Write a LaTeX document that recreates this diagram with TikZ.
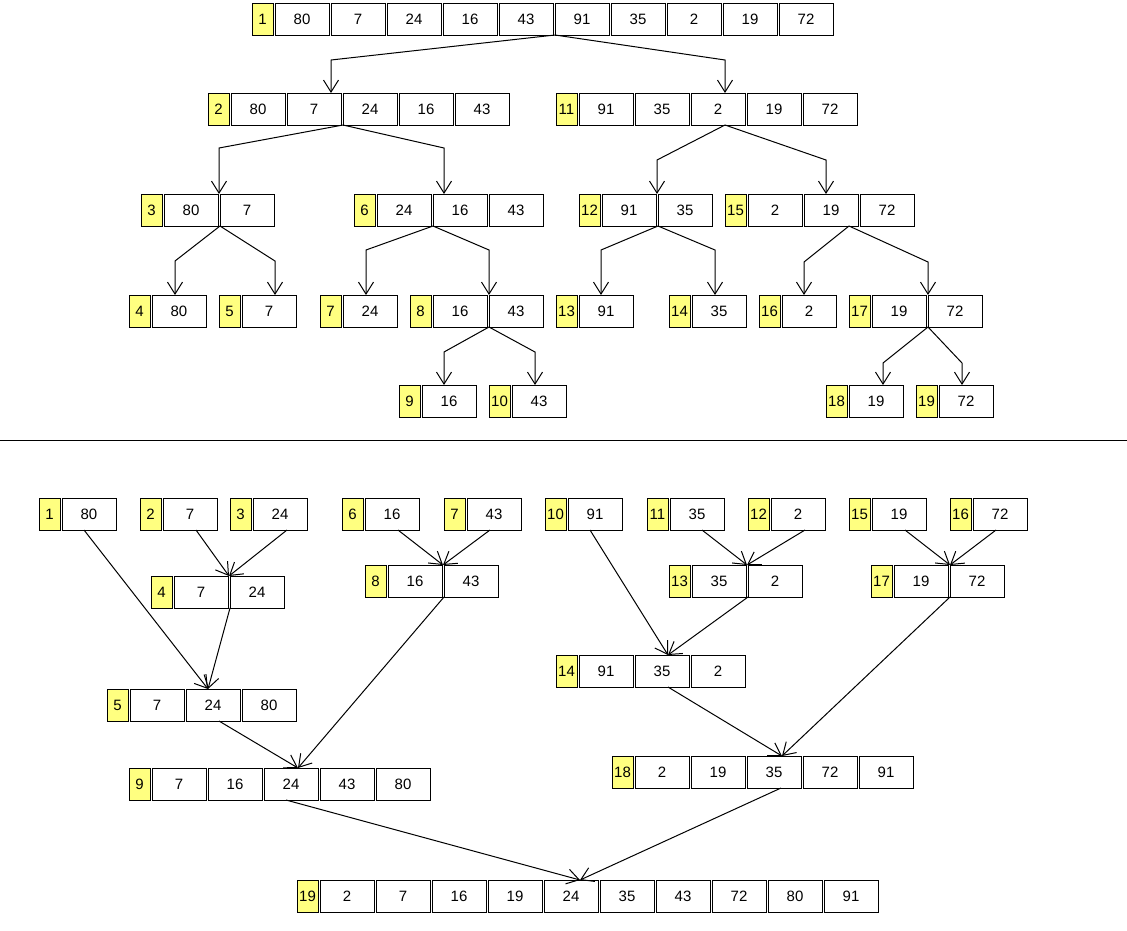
\documentclass[tikz,border=0pt]{standalone}
\usepackage{fontspec}
\setmainfont{Liberation Sans}
\usetikzlibrary{arrows.meta,calc}
\definecolor{labyellow}{RGB}{255,255,128}
\tikzset{
  cell/.style={draw=black, line width=1pt, minimum width=54pt, minimum height=32pt,
    inner sep=0pt, outer sep=0pt, anchor=north west, font=\fontsize{15}{18}\selectfont},
  lab/.style={cell, fill=labyellow, minimum width=21pt},
  arr/.style={draw=black, line width=1pt, -{Straight Barb[length=12pt,width=15pt,line width=1pt]}},
  sepline/.style={draw=black, line width=1pt},
}
\newcommand\arrnode[5]{%
  \node[lab] (#1l) at (#2,#3) {#4};
  \foreach \v [count=\i] in {#5} {
    \node[cell] (#1c\i) at ({#2+23+56*(\i-1)},#3) {\v};
  }%
}
\newcommand\elbow[3]{\draw[arr] (#1) -- ([yshift=#3pt]#2) -- (#2);}
\begin{document}
\begin{tikzpicture}[x=1pt,y=-1pt]
\useasboundingbox (0,0) rectangle (1127,930);
% ---------- split tree ----------
\arrnode{T1}{252}{3}{1}{80,7,24,16,43,91,35,2,19,72}
\arrnode{T2}{208}{93}{2}{80,7,24,16,43}
\arrnode{T11}{556}{93}{11}{91,35,2,19,72}
\arrnode{T3}{141}{194}{3}{80,7}
\arrnode{T6}{354}{194}{6}{24,16,43}
\arrnode{T12}{579}{194}{12}{91,35}
\arrnode{T15}{725}{194}{15}{2,19,72}
\arrnode{T4}{129}{295}{4}{80}
\arrnode{T5}{219}{295}{5}{7}
\arrnode{T7}{320}{295}{7}{24}
\arrnode{T8}{410}{295}{8}{16,43}
\arrnode{T13}{556}{295}{13}{91}
\arrnode{T14}{669}{295}{14}{35}
\arrnode{T16}{759}{295}{16}{2}
\arrnode{T17}{849}{295}{17}{19,72}
\arrnode{T9}{399}{385}{9}{16}
\arrnode{T10}{489}{385}{10}{43}
\arrnode{T18}{826}{385}{18}{19}
\arrnode{T19}{916}{385}{19}{72}

\coordinate (eT2) at ([xshift=44pt]T2c2.north west);
\coordinate (eT11) at ([xshift=34pt]T11c3.north west);
\coordinate (eT3) at ([xshift=-1pt]T3c2.north west);
\coordinate (eT6) at ([xshift=11pt]T6c2.north west);
\coordinate (eT12) at ([xshift=-1pt]T12c2.north west);
\coordinate (eT15) at ([xshift=22pt]T15c2.north west);
\coordinate (eT4) at ([xshift=23pt]T4c1.north west);
\coordinate (eT5) at ([xshift=33pt]T5c1.north west);
\coordinate (eT7) at ([xshift=23pt]T7c1.north west);
\coordinate (eT8) at (T8c2.north west);
\coordinate (eT13) at ([xshift=22pt]T13c1.north west);
\coordinate (eT14) at ([xshift=23pt]T14c1.north west);
\coordinate (eT16) at ([xshift=22pt]T16c1.north west);
\coordinate (eT17) at (T17c2.north west);
\coordinate (eT9) at ([xshift=22pt]T9c1.north west);
\coordinate (eT10) at ([xshift=23pt]T10c1.north west);
\coordinate (eT18) at ([xshift=34pt]T18c1.north west);
\coordinate (eT19) at ([xshift=23pt]T19c1.north west);

\elbow{T1c6.south west}{eT2}{33}
\elbow{T1c6.south west}{eT11}{33}
\elbow{T2c3.south west}{eT3}{46}
\elbow{T2c3.south west}{eT6}{46}
\elbow{[xshift=34pt]T11c3.south west}{eT12}{34}
\elbow{[xshift=34pt]T11c3.south west}{eT15}{34}
\elbow{T3c2.south west}{eT4}{34}
\elbow{T3c2.south west}{eT5}{34}
\elbow{T6c2.south west}{eT7}{45}
\elbow{T6c2.south west}{eT8}{45}
\elbow{T12c2.south west}{eT13}{45}
\elbow{T12c2.south west}{eT14}{45}
\elbow{[xshift=45pt]T15c2.south west}{eT16}{33}
\elbow{[xshift=45pt]T15c2.south west}{eT17}{33}
\elbow{T8c2.south west}{eT9}{33}
\elbow{T8c2.south west}{eT10}{33}
\elbow{T17c2.south west}{eT18}{22}
\elbow{T17c2.south west}{eT19}{22}

% ---------- separator ----------
\coordinate (sepL) at (0,440);
\coordinate (sepR) at (1127,440);
\draw[sepline] (sepL) -- (sepR);

% ---------- merge tree ----------
\arrnode{B1}{39}{498}{1}{80}
\arrnode{B2}{140}{498}{2}{7}
\arrnode{B3}{230}{498}{3}{24}
\arrnode{B6}{342}{498}{6}{16}
\arrnode{B7}{444}{498}{7}{43}
\arrnode{B10}{545}{498}{10}{91}
\arrnode{B11}{647}{498}{11}{35}
\arrnode{B12}{748}{498}{12}{2}
\arrnode{B15}{849}{498}{15}{19}
\arrnode{B16}{950}{498}{16}{72}
\arrnode{B4}{151}{576}{4}{7,24}
\arrnode{B8}{365}{565}{8}{16,43}
\arrnode{B13}{669}{565}{13}{35,2}
\arrnode{B17}{871}{565}{17}{19,72}
\arrnode{B5}{107}{689}{5}{7,24,80}
\arrnode{B14}{556}{655}{14}{91,35,2}
\arrnode{B9}{129}{768}{9}{7,16,24,43,80}
\arrnode{B18}{612}{756}{18}{2,19,35,72,91}
\arrnode{B19}{297}{880}{19}{2,7,16,19,24,35,43,72,80,91}

\draw[arr] ([xshift=22pt]B1c1.south west) -- ([xshift=22pt]B5c2.north west);
\draw[arr] ([xshift=33pt]B2c1.south west) -- ([xshift=-1pt]B4c2.north west);
\draw[arr] ([xshift=34pt]B3c1.south west) -- ([xshift=-1pt]B4c2.north west);
\draw[arr] (B4c2.south west) -- ([xshift=22pt]B5c2.north west);
\draw[arr] ([xshift=33pt]B6c1.south west) -- ([xshift=-1pt]B8c2.north west);
\draw[arr] ([xshift=23pt]B7c1.south west) -- ([xshift=-1pt]B8c2.north west);
\draw[arr] (B8c2.south west) -- ([xshift=34pt]B9c3.north west);
\draw[arr] ([xshift=33pt]B5c2.south west) -- ([xshift=34pt]B9c3.north west);
\draw[arr] ([xshift=22pt]B10c1.south west) -- ([xshift=33pt]B14c2.north west);
\draw[arr] ([xshift=32pt]B11c1.south west) -- ([xshift=-1pt]B13c2.north west);
\draw[arr] ([xshift=34pt]B12c1.south west) -- ([xshift=-1pt]B13c2.north west);
\draw[arr] (B13c2.south west) -- ([xshift=33pt]B14c2.north west);
\draw[arr] ([xshift=33pt]B15c1.south west) -- (B17c2.north west);
\draw[arr] ([xshift=23pt]B16c1.south west) -- (B17c2.north west);
\draw[arr] ([xshift=33pt]B14c2.south west) -- ([xshift=35pt]B18c3.north west);
\draw[arr] (B17c2.south west) -- ([xshift=35pt]B18c3.north west);
\draw[arr] ([xshift=22pt]B9c3.south west) -- ([xshift=36pt]B19c5.north west);
\draw[arr] ([xshift=34pt]B18c3.south west) -- ([xshift=36pt]B19c5.north west);
\end{tikzpicture}
\end{document}
